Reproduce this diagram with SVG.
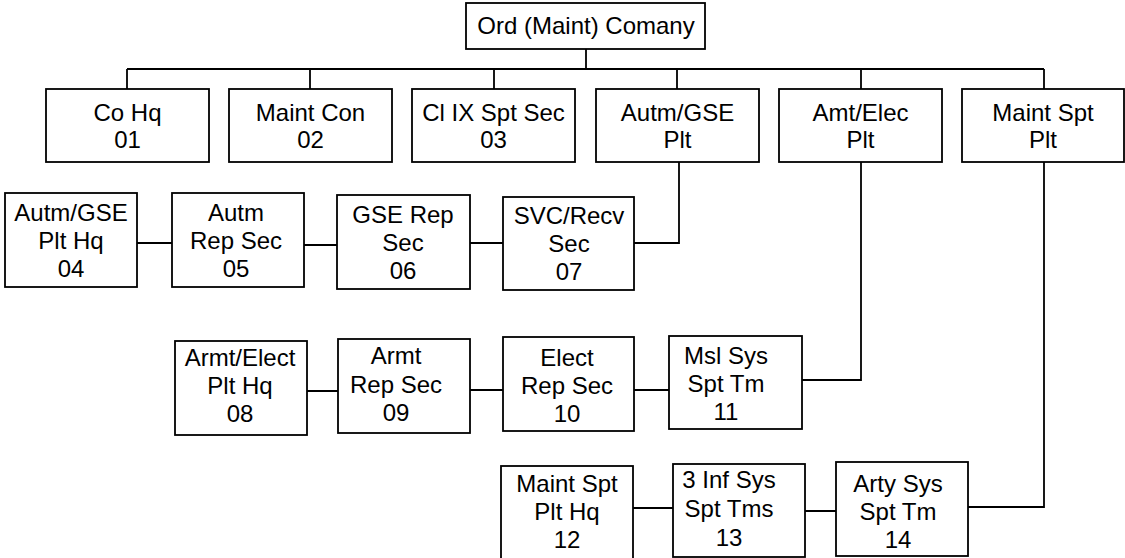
<svg xmlns="http://www.w3.org/2000/svg" width="1125" height="558" viewBox="0 0 1125 558">
<style>
rect{fill:#fff;stroke:#000;stroke-width:1.8}
path{fill:none;stroke:#000;stroke-width:1.8}
text{font-family:"Liberation Sans",Arial,sans-serif;font-size:24px;fill:#000;text-anchor:middle}
</style>
<rect width="1125" height="558" fill="#fff" style="stroke:none"/>
<g id="connectors">
<path d="M586 49V69M127 69H1044M127 69V89M310 69V89M494 69V89M677 69V89M861 69V89M1044 69V89"/>
<path d="M137 243H172M304 245H337M470 243H503M634 243H679V162"/>
<path d="M307 391H338M470 390H503M634 390H669M802 380H861V162"/>
<path d="M633 508H673M805 511H836M968 507H1044V162"/>
</g>
<g id="n00"><rect x="466" y="3" width="239" height="46"/><text x="586" y="34">Ord (Maint) Comany</text></g>
<g id="n01"><rect x="46" y="89" width="163" height="73"/><text x="127.5" y="121">Co Hq</text><text x="127.5" y="148">01</text></g>
<g id="n02"><rect x="229" y="89" width="163" height="73"/><text x="310.5" y="121">Maint Con</text><text x="310.5" y="148">02</text></g>
<g id="n03"><rect x="412" y="89" width="163" height="73"/><text x="493.5" y="121">Cl IX Spt Sec</text><text x="493.5" y="148">03</text></g>
<g id="n_autm"><rect x="596" y="89" width="163" height="73"/><text x="677.5" y="121">Autm/GSE</text><text x="677.5" y="148">Plt</text></g>
<g id="n_amt"><rect x="779" y="89" width="163" height="73"/><text x="860.5" y="121">Amt/Elec</text><text x="860.5" y="148">Plt</text></g>
<g id="n_mspt"><rect x="962" y="89" width="162" height="73"/><text x="1043" y="121">Maint Spt</text><text x="1043" y="148">Plt</text></g>
<g id="n04"><rect x="5" y="193" width="132" height="94"/><text x="71" y="221">Autm/GSE</text><text x="71" y="249">Plt Hq</text><text x="71" y="277">04</text></g>
<g id="n05"><rect x="172" y="193" width="132" height="94"/><text x="236" y="221">Autm</text><text x="236" y="249">Rep Sec</text><text x="236" y="277">05</text></g>
<g id="n06"><rect x="337" y="195" width="133" height="94"/><text x="403" y="223">GSE Rep</text><text x="403" y="251">Sec</text><text x="403" y="279">06</text></g>
<g id="n07"><rect x="503" y="197" width="131" height="93"/><text x="569" y="224">SVC/Recv</text><text x="569" y="252">Sec</text><text x="569" y="280">07</text></g>
<g id="n08"><rect x="175" y="341" width="132" height="94"/><text x="240" y="366">Armt/Elect</text><text x="240" y="394">Plt Hq</text><text x="240" y="422">08</text></g>
<g id="n09"><rect x="338" y="339" width="132" height="94"/><text x="396" y="364">Armt</text><text x="396" y="393">Rep Sec</text><text x="396" y="421">09</text></g>
<g id="n10"><rect x="503" y="337" width="131" height="94"/><text x="567" y="366">Elect</text><text x="567" y="394">Rep Sec</text><text x="567" y="422">10</text></g>
<g id="n11"><rect x="669" y="336" width="133" height="93"/><text x="726" y="364">Msl Sys</text><text x="726" y="392">Spt Tm</text><text x="726" y="420">11</text></g>
<g id="n12"><rect x="501" y="466" width="132" height="93"/><text x="567" y="492">Maint Spt</text><text x="567" y="520">Plt Hq</text><text x="567" y="548">12</text></g>
<g id="n13"><rect x="673" y="464" width="132" height="93"/><text x="729" y="488">3 Inf Sys</text><text x="729" y="517">Spt Tms</text><text x="729" y="546">13</text></g>
<g id="n14"><rect x="836" y="462" width="132" height="94"/><text x="898" y="492">Arty Sys</text><text x="898" y="520">Spt Tm</text><text x="898" y="548">14</text></g>
</svg>
